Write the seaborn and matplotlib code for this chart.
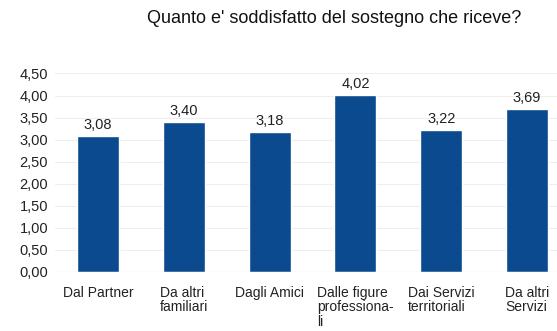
import matplotlib
matplotlib.use("Agg")
import matplotlib.pyplot as plt
import seaborn as sns
import pandas as pd

categories = ["Dal Partner", "Da altri\nfamiliari", "Dagli Amici",
              "Dalle figure\nprofessiona-\nli", "Dai Servizi\nterritoriali", "Da altri\nServizi"]
values = [3.08, 3.40, 3.18, 4.02, 3.22, 3.69]
yticks = [0, 0.5, 1, 1.5, 2, 2.5, 3, 3.5, 4, 4.5]

sns.set_theme(style="white")
plt.rcParams['font.family'] = ['Liberation Sans', 'DejaVu Sans']

fig = plt.figure(figsize=(5.57, 3.31), dpi=100)
ax = fig.add_axes([0.099, 0.179, 0.901, 0.599])
df = pd.DataFrame({"cat": categories, "val": values})
sns.barplot(data=df, x="cat", y="val", color="#0b4a8f", saturation=1, width=0.49, ax=ax)

ax.set_ylim(0, 4.5)
ax.set_xlim(-0.5, 5.35)
ax.set_yticks(yticks)
ax.set_yticklabels([f"{v:.2f}".replace(".", ",") for v in yticks], fontsize=10.5, color="#222222")
ax.yaxis.grid(True, color="#eeeeee", linewidth=0.8)
ax.set_axisbelow(True)
ax.set_xlabel("")
ax.set_ylabel("")
for lbl in ax.get_xticklabels():
    lbl.set_multialignment('left')
    lbl.set_linespacing(1.05)
ax.tick_params(axis='x', labelsize=10, colors="#222222", length=0, pad=10)
ax.tick_params(axis='y', length=0, pad=5)
for s in ax.spines.values():
    s.set_visible(False)
ax.axhline(0, color="#cccccc", linewidth=0.8)

for i, v in enumerate(values):
    ax.text(i, v + 0.16, f"{v:.2f}".replace(".", ","), ha="center", va="baseline", fontsize=10.5, color="#222222")

fig.text(0.6, 0.943, "Quanto e' soddisfatto del sostegno che riceve?", ha="center", va="center",
         fontsize=13, color="#111111")

fig.savefig("out.png", dpi=100)
